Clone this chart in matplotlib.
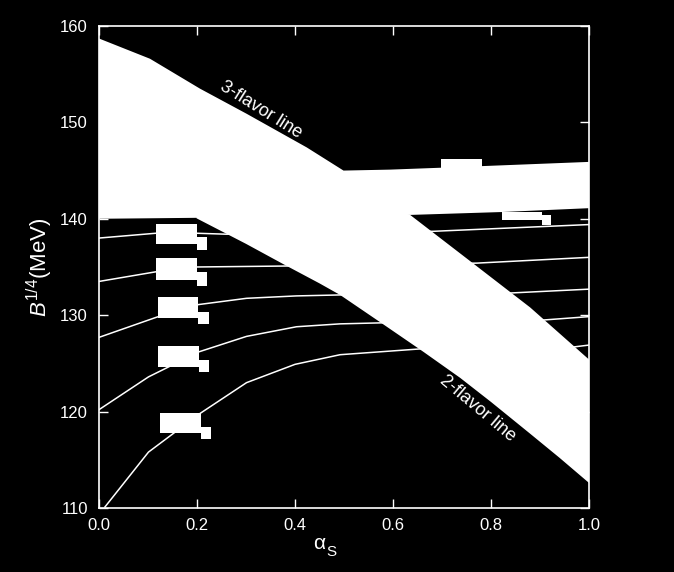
import numpy as np
import matplotlib.pyplot as plt
from matplotlib.patches import Rectangle

plt.rcParams['font.family'] = ['Liberation Sans', 'DejaVu Sans']
plt.rcParams['mathtext.fontset'] = 'custom'
plt.rcParams['mathtext.rm'] = 'Liberation Sans'
plt.rcParams['mathtext.it'] = 'Liberation Sans:italic'

# 3-flavor band (upper and lower edges)
x3_up = [0.0, 0.104, 0.206, 0.301, 0.424, 0.499, 0.594, 0.70, 0.80, 0.90, 1.0]
b3_up = [158.7, 156.6, 153.5, 150.9, 147.4, 145.0, 145.1, 145.3, 145.5, 145.7, 145.9]
x3_low = [0.0, 0.2, 0.635, 0.822, 1.0]
b3_low = [140.0, 140.1, 140.4, 140.7, 141.1]

# 2-flavor band
x2_up = [0.199, 0.376, 0.492, 0.573, 0.635, 0.75, 0.88, 1.0]
b2_up = [144.0, 143.0, 142.0, 141.5, 140.4, 135.9, 130.8, 125.4]
x2_low = [0.199, 0.30, 0.376, 0.45, 0.492, 0.573, 0.662, 0.737, 0.80, 0.880, 0.94, 1.0]
b2_low = [140.05, 137.4, 135.3, 133.3, 132.1, 129.3, 126.2, 123.5, 121.0, 117.7, 115.2, 112.6]

# thin curves
curves = [
    ([0.0, 0.116, 0.199, 0.26, 0.682, 1.0], [138.0, 138.5, 138.5, 138.4, 138.7, 139.4]),
    ([0.0, 0.116, 0.199, 0.383, 0.771, 1.0], [133.5, 134.5, 135.0, 135.1, 135.4, 136.0]),
    ([0.0, 0.118, 0.203, 0.301, 0.403, 0.492, 0.839, 1.0],
     [127.7, 129.8, 131.1, 131.75, 132.0, 132.1, 132.3, 132.7]),
    ([0.0, 0.101, 0.204, 0.301, 0.403, 0.492, 0.573, 0.907, 1.0],
     [120.2, 123.6, 126.2, 127.8, 128.8, 129.1, 129.2, 129.5, 129.85]),
    ([0.012, 0.101, 0.206, 0.301, 0.4, 0.492, 0.655, 0.968, 1.0],
     [110.1, 115.8, 119.8, 123.0, 124.9, 125.9, 126.5, 126.7, 126.9]),
]

# blanked label boxes: x0, x1, y0, y1
box_x0 = [0.116, 0.200, 0.116, 0.200, 0.120, 0.202, 0.120, 0.204, 0.124, 0.208, 0.698, 0.822, 0.905]
box_x1 = [0.200, 0.220, 0.200, 0.220, 0.202, 0.224, 0.204, 0.224, 0.208, 0.229, 0.781, 0.905, 0.922]
box_y0 = [137.39, 136.76, 133.65, 133.03, 129.71, 129.09, 124.63, 124.11, 117.78, 117.16, 144.5, 139.88, 139.35]
box_y1 = [139.46, 138.11, 135.93, 134.48, 131.89, 130.33, 126.80, 125.35, 119.85, 118.40, 146.2, 140.74, 140.39]

fig = plt.figure(figsize=(6.74, 5.72), dpi=100, facecolor='black')
ax = fig.add_axes([0.1469, 0.1119, 0.727, 0.8427])
ax.set_facecolor('black')

ax.fill(x3_up + x3_low[::-1], b3_up + b3_low[::-1], color='white', lw=0)
ax.fill(x2_up + x2_low[::-1], b2_up + b2_low[::-1], color='white', lw=0)

for cx, cy in curves:
    ax.plot(cx, cy, color='white', lw=1.1)

for x0, x1, y0, y1 in zip(box_x0, box_x1, box_y0, box_y1):
    ax.add_patch(Rectangle((x0, y0), x1 - x0, y1 - y0, color='white', lw=0))

ax.text(0.33, 151.3, '3-flavor line', color='white', fontsize=13,
        rotation=-32, rotation_mode='anchor', ha='center', va='center')
ax.text(0.773, 120.3, '2-flavor line', color='white', fontsize=13,
        rotation=-40, rotation_mode='anchor', ha='center', va='center')

ax.set_xlim(0, 1.0)
ax.set_ylim(110, 160)
ax.set_xticks(np.arange(0, 1.01, 0.2))
ax.set_yticks(np.arange(110, 161, 10))
ax.set_xticklabels(['0.0', '0.2', '0.4', '0.6', '0.8', '1.0'])

for s in ax.spines.values():
    s.set_color('white')
    s.set_linewidth(1.2)
ax.tick_params(direction='in', length=6.5, width=1.0, colors='white',
               labelsize=12, top=True, right=True)
ax.tick_params(axis='y', pad=8)
ax.tick_params(axis='x', pad=7)

ax.set_ylabel(r'$\mathit{B}^{1/4}$(MeV)', color='white', fontsize=16)
ax.yaxis.set_label_coords(-0.09, 0.5)

ax.text(0.449, -0.073, 'α', color='white', fontsize=15, transform=ax.transAxes,
        ha='center', va='center')
ax.text(0.475, -0.091, 'S', color='white', fontsize=11, transform=ax.transAxes,
        ha='center', va='center')

fig.savefig('out.png', dpi=100, facecolor='black')
